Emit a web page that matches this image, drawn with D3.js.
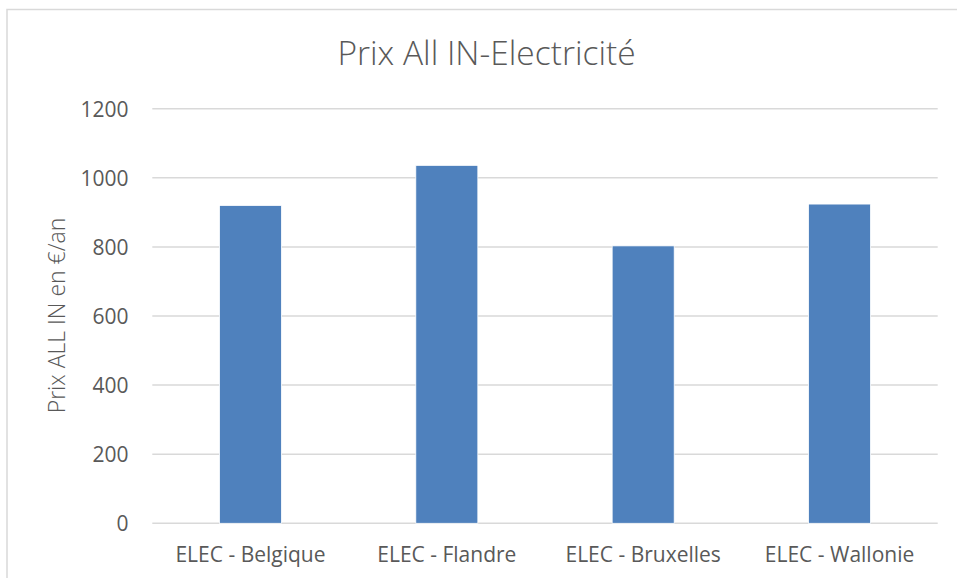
<!DOCTYPE html>
<html>
<head>
<meta charset="utf-8">
<script src="https://cdn.jsdelivr.net/npm/d3@7"></script>
<style>
  html, body { margin: 0; padding: 0; background: #fff; }
  svg { display: block; }
</style>
</head>
<body>
<svg id="chart" width="957" height="578"></svg>
<script>
const categories = ["ELEC - Belgique", "ELEC - Flandre", "ELEC - Bruxelles", "ELEC - Wallonie"];
const values = [920, 1036, 803, 924];
const yTicks = [0, 200, 400, 600, 800, 1000, 1200];
const chartTitle = "Prix All IN-Electricité";
const yTitle = "Prix ALL IN en €/an";

(function () {
const svg = d3.select("#chart");
const font = "'Open Sans', 'Noto Sans', sans-serif";
const textColor = "#595959";

// chart border (cut off on right and bottom)
svg.append("rect")
  .attr("x", 7).attr("y", 9.5)
  .attr("width", 1200).attr("height", 1200)
  .attr("fill", "none").attr("stroke", "#d9d9d9").attr("stroke-width", 1.5);

const pLeft = 152.3, pRight = 937.7, pTop = 108.7, pBottom = 523.3;

const x = d3.scaleBand().domain(categories).range([pLeft, pRight])
  .paddingInner(0.684).paddingOuter(0.342);
const y = d3.scaleLinear().domain([0, 1200]).range([pBottom, pTop]);

// gridlines
svg.append("g").selectAll("line").data(yTicks).join("line")
  .attr("x1", pLeft).attr("x2", pRight)
  .attr("y1", d => y(d)).attr("y2", d => y(d))
  .attr("stroke", "#d9d9d9").attr("stroke-width", 1.5);

// y axis labels
const yAxis = d3.axisLeft(y).tickValues(yTicks).tickFormat(d3.format("d")).tickSize(0).tickPadding(0);
const yg = svg.append("g").attr("transform", `translate(128.5,0)`).call(yAxis);
yg.select(".domain").remove();
yg.selectAll("text")
  .attr("font-family", font).attr("font-size", 21).attr("fill", textColor)
  .attr("dy", "0.36em");

// bars
svg.append("g").selectAll("rect").data(values).join("rect")
  .attr("x", (d, i) => x(categories[i]))
  .attr("width", x.bandwidth())
  .attr("y", d => y(d))
  .attr("height", d => y(0) - y(d))
  .attr("fill", "#4f81bd")
  .attr("stroke", "#ffffff").attr("stroke-width", 0.8);

// x axis labels
const xAxis = d3.axisBottom(x).tickSize(0).tickPadding(0);
const xg = svg.append("g").attr("transform", `translate(0,562)`).call(xAxis);
xg.select(".domain").remove();
xg.selectAll("text")
  .attr("font-family", font).attr("font-size", 21).attr("fill", textColor)
  .attr("dy", 0).attr("y", 0);

// title
svg.append("text")
  .attr("x", 486.5).attr("y", 65)
  .attr("text-anchor", "middle")
  .attr("font-family", font).attr("font-size", 33.5).attr("font-weight", 300)
  .attr("fill", textColor)
  .text(chartTitle);

// y axis title
svg.append("text")
  .attr("transform", "translate(65,315.5) rotate(-90)")
  .attr("text-anchor", "middle")
  .attr("font-family", font).attr("font-size", 23).attr("font-weight", 300)
  .attr("fill", textColor)
  .text(yTitle);
})();
</script>
</body>
</html>
